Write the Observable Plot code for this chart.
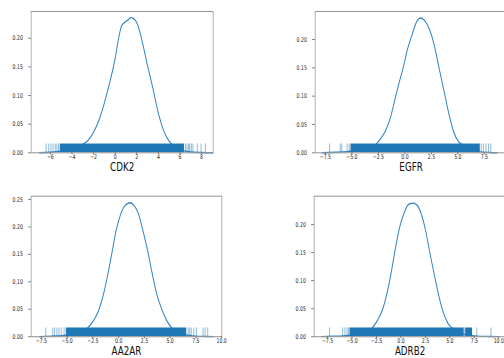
<!DOCTYPE html>
<html><head><meta charset="utf-8">
<script src="https://cdn.jsdelivr.net/npm/d3@7"></script>
<script src="https://cdn.jsdelivr.net/npm/@observablehq/plot@0.6"></script>
<style>
html,body{margin:0;padding:0;background:#fff;overflow:hidden;}
#root{position:relative;width:504px;height:358px;overflow:hidden;background:#fff;}
#root svg{position:absolute;}
</style></head><body><div id="root"></div>
<script>
// ---- data ----
const panelNames = ["CDK2", "EGFR", "AA2AR", "ADRB2"];

const cdk2KdeX = [-7.0,-6.0,-5.0,-4.0,-3.5,-3.0,-2.5,-2.0,-1.5,-1.0,-0.5,0.0,0.3,0.6,0.9,1.2,1.45,1.75,2.05,2.3,2.6,3.0,3.5,4.0,4.5,5.0,5.5,6.0,7.0,8.0,9.05];
const cdk2KdeY = [0.0002,0.001,0.003,0.007,0.010,0.015,0.022,0.036,0.057,0.087,0.123,0.165,0.198,0.222,0.228,0.232,0.236,0.234,0.225,0.210,0.186,0.152,0.112,0.069,0.038,0.020,0.011,0.005,0.0015,0.0005,0.0001];
const cdk2Rug = [-6.4,-6.15,-5.95,-5.75,-5.55,-5.4,-5.25,6.5,6.65,6.8,6.9,7.05,7.2,7.6,7.95,8.35];
const cdk2RugBand = [[-5.1, 6.4]];

const egfrKdeX = [-7.8,-6.5,-5.5,-4.5,-3.5,-2.77,-2.29,-1.82,-1.35,-0.97,-0.57,-0.15,0.22,0.70,1.17,1.48,1.86,2.36,2.74,3.21,3.68,4.15,4.62,5.09,5.42,6.0,7.0,8.0,8.7];
const egfrKdeY = [0.0002,0.001,0.002,0.004,0.008,0.0147,0.025,0.039,0.063,0.092,0.122,0.151,0.181,0.210,0.2335,0.238,0.2335,0.216,0.192,0.151,0.110,0.069,0.036,0.019,0.0147,0.007,0.002,0.0006,0.0001];
const egfrRug = [-7.1,-6.1,-5.95,-5.45,-5.25,7.2,7.4,7.65,7.9,8.1];
const egfrRugBand = [[-5.1, 7.1]];

const aa2arKdeX = [-7.7,-6.5,-5.5,-4.5,-3.6,-3.03,-2.45,-1.96,-1.48,-1.09,-0.66,-0.24,0.21,0.73,1.12,1.50,1.92,2.35,2.80,3.25,3.71,4.19,4.68,5.17,5.8,6.5,7.5,8.5,9.2];
const aa2arKdeY = [0.0002,0.001,0.002,0.004,0.008,0.0157,0.029,0.047,0.077,0.110,0.152,0.194,0.224,0.241,0.244,0.239,0.224,0.194,0.158,0.116,0.077,0.050,0.029,0.0157,0.007,0.003,0.001,0.0004,0.0001];
const aa2arRug = [-7.08,-6.4,-6.22,-6.0,-5.8,-5.58,-5.3,6.75,6.9,7.05,7.3,7.55,8.2,8.4,8.65];
const aa2arRugBand = [[-5.1, 6.6]];

const adrb2KdeX = [-8.1,-7.0,-6.0,-5.0,-3.8,-2.95,-2.44,-1.93,-1.42,-1.0,-0.56,-0.12,0.29,0.80,1.25,1.66,2.07,2.51,2.96,3.44,3.88,4.33,4.80,5.25,5.9,6.8,7.8,9.0,9.9];
const adrb2KdeY = [0.0002,0.0008,0.0015,0.003,0.007,0.0153,0.028,0.046,0.078,0.114,0.158,0.196,0.219,0.236,0.238,0.234,0.219,0.190,0.149,0.108,0.072,0.043,0.024,0.0153,0.007,0.003,0.001,0.0004,0.0001];
const adrb2Rug = [-7.3,-5.95,-5.72,-5.5,-5.35,6.52,7.75,9.2];
const adrb2RugBand = [[-5.22, 6.45], [6.6, 7.3]];

const xTicksInt = [-6,-4,-2,0,2,4,6,8];
const xTicksHalf = [-7.5,-5,-2.5,0,2.5,5,7.5];
const xTicksHalf10 = [-7.5,-5,-2.5,0,2.5,5,7.5,10];
const yTicks20 = [0,0.05,0.10,0.15,0.20];
const yTicks25 = [0,0.05,0.10,0.15,0.20,0.25];

// ---- layout ----
const SQ = 0.7; // horizontal squeeze of the reference image
const panels = [
  {name: panelNames[0], kx: cdk2KdeX, ky: cdk2KdeY, rug: cdk2Rug, band: cdk2RugBand,
   xDomain: [-7.78, 9.07], yMax: 0.2467, xTicks: xTicksInt, xFmt: d3.format("d"), yTicks: yTicks20,
   left: 0, top: 0, frameW: 260, mr: 10, mt: 11, H: 180, mb: 27.7, labelDy: 18},
  {name: panelNames[1], kx: egfrKdeX, ky: egfrKdeY, rug: egfrRug, band: egfrRugBand,
   xDomain: [-8.47, 9.63], yMax: 0.2494, xTicks: xTicksHalf, xFmt: d3.format(".1f"), yTicks: yTicks20,
   left: 283.5, top: 0, frameW: 274, mr: 0, mt: 11, H: 180, mb: 27.7, labelDy: 18},
  {name: panelNames[2], kx: aa2arKdeX, ky: aa2arKdeY, rug: aa2arRug, band: aa2arRugBand,
   xDomain: [-8.5, 10.02], yMax: 0.256, xTicks: xTicksHalf10, xFmt: d3.format(".1f"), yTicks: yTicks25,
   left: 0, top: 180, frameW: 272.4, mr: 10, mt: 15.7, H: 178, mb: 21.8, labelDy: 18.3},
  {name: panelNames[3], kx: adrb2KdeX, ky: adrb2KdeY, rug: adrb2Rug, band: adrb2RugBand,
   xDomain: [-8.87, 10.73], yMax: 0.2504, xTicks: xTicksHalf10, xFmt: d3.format(".1f"), yTicks: yTicks20,
   left: 283.2, top: 180, frameW: 274, mr: 0, mt: 15.7, H: 178, mb: 21.8, labelDy: 18.3}
];

const root = document.getElementById("root");
for (const p of panels) {
  const ML = 44;
  const W = ML + p.frameW + p.mr;
  const rugTop = p.yMax * 0.062;
  const kde = p.kx.map((x, i) => ({x, y: p.ky[i]}));
  const svg = Plot.plot({
    width: W, height: p.H,
    marginLeft: ML, marginRight: p.mr, marginTop: p.mt, marginBottom: p.mb,
    style: {fontFamily: "DejaVu Sans", fontSize: "6.6px", color: "#262626", background: "white", overflow: "visible"},
    x: {domain: p.xDomain},
    y: {domain: [0, p.yMax]},
    marks: [
      Plot.line(kde, {x: "x", y: "y", stroke: "#3385c6", strokeWidth: 1.4, curve: "monotone-x"}),
      Plot.rect(p.band, {x1: d => d[0], x2: d => d[1], y1: 0, y2: rugTop, fill: "#1f77b4"}),
      Plot.ruleX(p.rug, {x: d => d, y1: 0, y2: rugTop, stroke: "#1f77b4", strokeOpacity: 0.55, strokeWidth: 1.3}),
      Plot.frame({stroke: "#9a9a9a", strokeWidth: 1.1}),
      Plot.axisX({ticks: p.xTicks, tickFormat: p.xFmt, tickSize: 2, tickPadding: 0, stroke: "#666", label: null}),
      Plot.axisY({ticks: p.yTicks, tickFormat: d3.format(".2f"), tickSize: 3.8, tickPadding: 8, stroke: "#666", label: null}),
      Plot.text([p.name], {frameAnchor: "bottom", dy: p.labelDy, text: d => d, fontSize: 12.5, fill: "#111"})
    ]
  });
  svg.setAttribute("viewBox", `0 0 ${W} ${p.H}`);
  svg.setAttribute("preserveAspectRatio", "none");
  svg.setAttribute("width", W * SQ);
  svg.setAttribute("height", p.H);
  svg.style.width = (W * SQ) + "px";
  svg.style.height = p.H + "px";
  svg.style.maxWidth = "none";
  svg.style.left = p.left + "px";
  svg.style.top = p.top + "px";
  root.appendChild(svg);
}
</script>
</body></html>
